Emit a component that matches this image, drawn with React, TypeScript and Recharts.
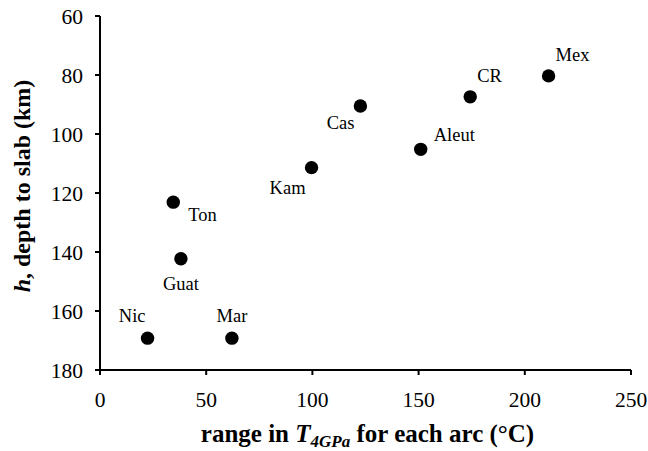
import { ScatterChart, Scatter, XAxis, YAxis } from 'recharts'

// arc names, T4GPa range (°C), depth to slab h (km)
const arcs = ['Nic', 'Ton', 'Guat', 'Mar', 'Kam', 'Cas', 'Aleut', 'CR', 'Mex']
const rangeT = [22.4, 34.5, 38.1, 62.1, 99.6, 122.6, 151, 174.3, 211.2]
const depthH = [169.2, 123.1, 142.3, 169.2, 111.4, 90.5, 105.2, 87.4, 80.3]

const xTicks = [0, 50, 100, 150, 200, 250]
const yTicks = [60, 80, 100, 120, 140, 160, 180]
const rightTicks = [77, 125, 173]

const points = arcs.map((name, i) => ({ name, x: rangeT[i], h: depthH[i] }))

// where each point's name sits relative to the dot
const labelPlace: Record<string, { dx: number; dy: number; anchor: 'start' | 'middle' | 'end' }> = {
  Nic: { dx: -2, dy: -16, anchor: 'end' },
  Ton: { dx: 15, dy: 19, anchor: 'start' },
  Guat: { dx: 0, dy: 31, anchor: 'middle' },
  Mar: { dx: 0, dy: -16, anchor: 'middle' },
  Kam: { dx: -6, dy: 26, anchor: 'end' },
  Cas: { dx: -6, dy: 23, anchor: 'end' },
  Aleut: { dx: 13, dy: -8, anchor: 'start' },
  CR: { dx: 7, dy: -15, anchor: 'start' },
  Mex: { dx: 7, dy: -15, anchor: 'start' },
}

const FONT = 'Liberation Serif'
const GRAY = '#808080'

const Dot = (props: any) => {
  const { cx, cy, payload } = props
  const p = labelPlace[payload.name]
  return (
    <g>
      <circle cx={cx} cy={cy} r={6.7} fill="#000" />
      <text x={cx + p.dx} y={cy + p.dy} textAnchor={p.anchor} fontFamily={FONT} fontSize={18.5} fill="#000">
        {payload.name}
      </text>
    </g>
  )
}

const XTitle = (props: any) => {
  const vb = props.viewBox
  const cx = vb.x + vb.width / 2
  return (
    <text x={cx + 2} y={442} textAnchor="middle" fontFamily={FONT} fontWeight="bold" fontSize={25} fill="#000">
      range in <tspan fontStyle="italic">T</tspan>
      <tspan fontStyle="italic" fontSize={17} dy={5}>4GPa</tspan>
      <tspan dy={-5}> for each arc (°C)</tspan>
    </text>
  )
}

const YTitle = (props: any) => {
  const vb = props.viewBox
  const cy = vb.y + vb.height / 2 - 7
  const x = 30
  return (
    <text x={x} y={cy} transform={`rotate(-90, ${x}, ${cy})`} textAnchor="middle" fontFamily={FONT} fontWeight="bold" fontSize={24} fill="#000">
      <tspan fontStyle="italic">h</tspan>, depth to slab (km)
    </text>
  )
}

const tickStyle = { fontSize: 21.5, fill: '#000', fontFamily: FONT }

export default function App() {
  return (
    <div style={{ position: 'absolute', left: 0, top: 0, background: '#fff' }}>
      <ScatterChart width={648} height={451} margin={{ top: 16, right: 17, bottom: 0, left: 0 }}>
        <XAxis
          xAxisId="main"
          type="number"
          dataKey="x"
          domain={[0, 250]}
          ticks={xTicks}
          tick={tickStyle}
          tickSize={5}
          tickMargin={17}
          stroke="#000"
          strokeWidth={2}
          height={81}
          label={{ content: XTitle }}
        />
        <XAxis
          xAxisId="top"
          orientation="top"
          type="number"
          domain={[0, 250]}
          tick={false}
          height={0}
          stroke={GRAY}
          strokeWidth={1}
        />
        <YAxis
          yAxisId="left"
          type="number"
          dataKey="h"
          domain={[60, 180]}
          reversed
          ticks={yTicks}
          tick={tickStyle}
          tickSize={5}
          tickMargin={12}
          stroke="#000"
          strokeWidth={2}
          width={100}
          label={{ content: YTitle }}
        />
        <YAxis
          yAxisId="right"
          orientation="right"
          type="number"
          domain={[60, 180]}
          reversed
          ticks={rightTicks}
          tick={() => <g />}
          tickSize={5}
          mirror
          width={0}
          stroke={GRAY}
          strokeWidth={1}
        />
        <Scatter
          data={points}
          xAxisId="main"
          yAxisId="left"
          fill="#000"
          shape={Dot}
          isAnimationActive={false}
        />
      </ScatterChart>
    </div>
  )
}
